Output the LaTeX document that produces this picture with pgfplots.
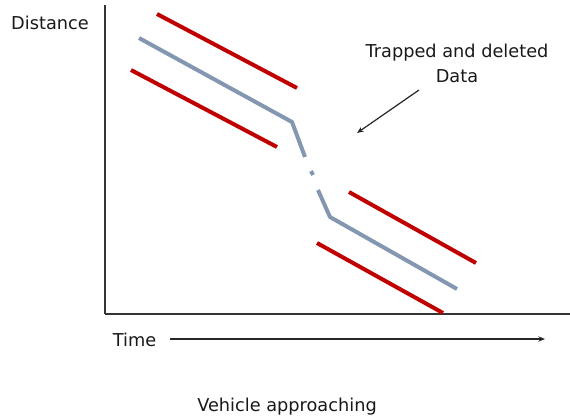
\documentclass[border=0pt]{standalone}
\usepackage{pgfplots}
\pgfplotsset{compat=1.18}
\usepackage{fontspec}
\setmainfont{DejaVu Sans}
\usetikzlibrary{arrows.meta}
\definecolor{darkred}{HTML}{C00000}
\definecolor{slate}{HTML}{8497B0}
% coordinates are in pixels of the 570x419 picture, y measured from the bottom
\begin{document}
\begin{tikzpicture}
\begin{axis}[
  at={(78.75pt,78.75pt)}, anchor=south west,
  scale only axis, width=348.75pt, height=231.75pt,
  xmin=105, xmax=570, ymin=105, ymax=414,
  axis x line=bottom, axis y line=left,
  axis line style={-, line width=1.1pt, black!80},
  xtick=\empty, ytick=\empty,
  clip=false,
  every axis plot/.append style={line width=3pt},
  font=\fontsize{13.3}{16}\selectfont,
]
% red bounds
\addplot[darkred] coordinates {(157,405) (297,331)};
\addplot[darkred] coordinates {(131,349) (277,272)};
\addplot[darkred] coordinates {(349,227) (476,156)};
\addplot[darkred] coordinates {(317,176) (443,106)};
% measured track
\addplot[slate] coordinates {(139,381) (292,297) (305,262)};
\addplot[slate] coordinates {(311,248) (313,244)};
\addplot[slate] coordinates {(318,229) (330,202) (457,130)};
% annotations
\node[anchor=base, text=black!90] at (axis cs:50,390) {Distance};
\node[anchor=base, text=black!90] at (axis cs:134.5,73) {Time};
\draw[line width=0.9pt, black!85, -{Stealth[length=5pt, width=4pt]}] (axis cs:170,80) -- (axis cs:545,80);
\node[anchor=base, text=black!90] at (axis cs:457,362) {Trapped and deleted};
\node[anchor=base, text=black!90] at (axis cs:457,337) {Data};
\draw[line width=0.9pt, black!85, -{Stealth[length=5pt, width=4pt]}] (axis cs:419,329) -- (axis cs:357,286);
\node[anchor=base, text=black!90] at (axis cs:287,8) {Vehicle approaching};
\end{axis}
\pgfresetboundingbox
\path (0,0) rectangle (427.5pt,314.25pt);
\end{tikzpicture}
\end{document}
